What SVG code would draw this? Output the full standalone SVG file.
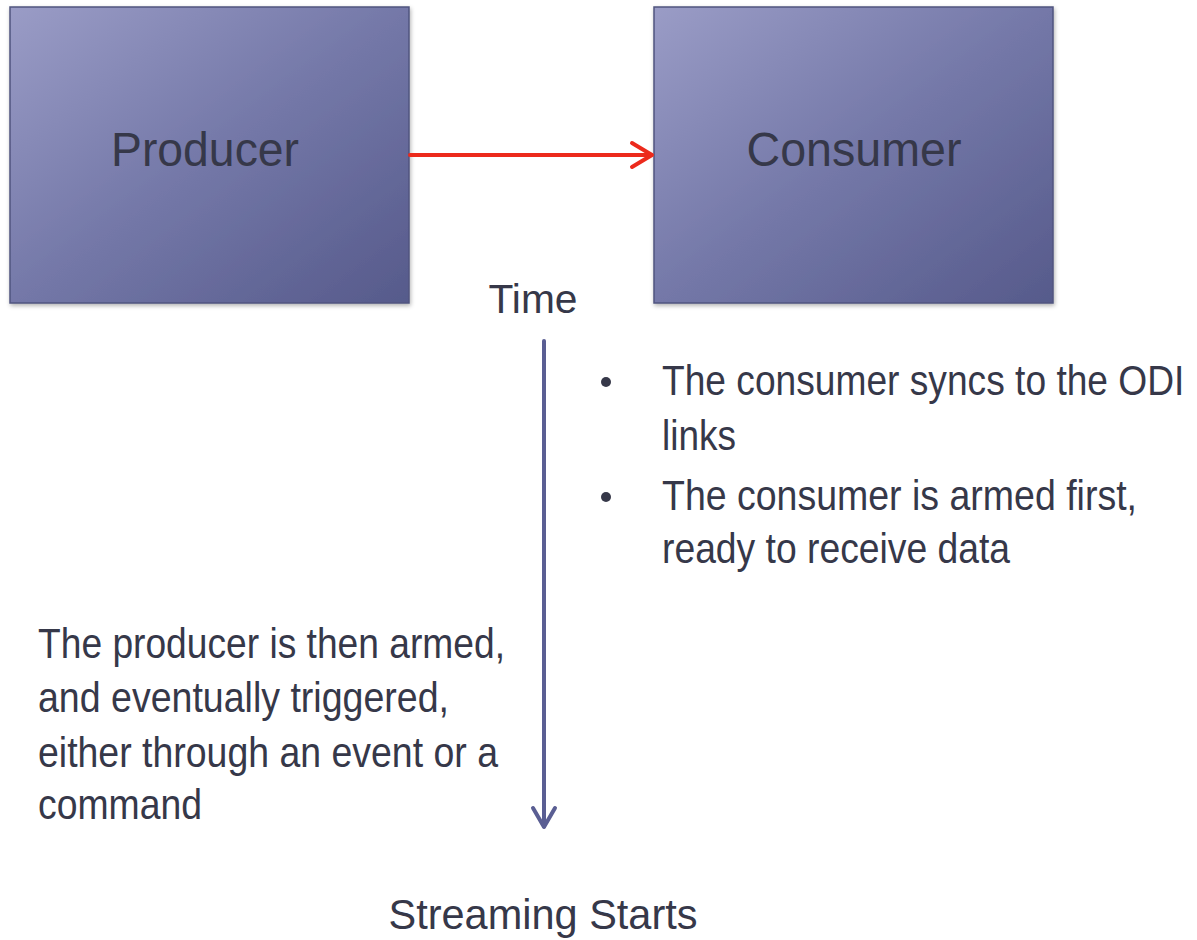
<svg xmlns="http://www.w3.org/2000/svg" width="1197" height="940" viewBox="0 0 1197 940">
<style>
  .t { font-family: "Liberation Sans", Arial, sans-serif; fill: #363849; }
  .box { fill: url(#boxg); stroke: #50547f; stroke-width: 1.5; filter: url(#sh); }
</style>
<defs>
  <linearGradient id="boxg" x1="0" y1="0" x2="1" y2="1">
    <stop offset="0" stop-color="#9a9cc6"/>
    <stop offset="0.5" stop-color="#7478a8"/>
    <stop offset="1" stop-color="#565a8b"/>
  </linearGradient>
  <filter id="sh" x="-5%" y="-5%" width="110%" height="110%">
    <feDropShadow dx="1" dy="2" stdDeviation="2" flood-color="#000" flood-opacity="0.3"/>
  </filter>
</defs>
<rect width="1197" height="940" fill="#ffffff"/>
<g id="producer">
  <rect class="box" x="10" y="7" width="399" height="296"/>
  <text class="t" x="205" y="166" font-size="48" text-anchor="middle" textLength="188" lengthAdjust="spacingAndGlyphs">Producer</text>
</g>
<g id="consumer">
  <rect class="box" x="654" y="7" width="399" height="296"/>
  <text class="t" x="854" y="166" font-size="48" text-anchor="middle" textLength="215" lengthAdjust="spacingAndGlyphs">Consumer</text>
</g>
<g id="connectors" fill="none" stroke-linecap="round" stroke-linejoin="round">
  <g stroke="#ec2a1c" stroke-width="4">
    <line x1="410" y1="155" x2="651" y2="155"/>
    <polyline points="632,143 652,155 632,167"/>
  </g>
  <g stroke="#5a5e93" stroke-width="4">
    <line x1="544" y1="341" x2="544" y2="826"/>
    <polyline points="533,808 544,827 555,808"/>
  </g>
</g>
<g id="labels">
  <text class="t" x="533" y="313" font-size="40" text-anchor="middle" textLength="89" lengthAdjust="spacingAndGlyphs">Time</text>
  <circle cx="606" cy="382" r="5" fill="#363849"/>
  <circle cx="606" cy="497" r="5" fill="#363849"/>
  <text class="t" transform="translate(662,395) scale(0.885,1)" x="0" y="0" font-size="42">The consumer syncs to the ODI</text>
  <text class="t" x="662" y="450" font-size="42" textLength="74" lengthAdjust="spacingAndGlyphs">links</text>
  <text class="t" x="662" y="510" font-size="42" textLength="475" lengthAdjust="spacingAndGlyphs">The consumer is armed first,</text>
  <text class="t" x="662" y="563" font-size="42" textLength="348" lengthAdjust="spacingAndGlyphs">ready to receive data</text>
  <text class="t" x="38" y="658" font-size="42" textLength="467" lengthAdjust="spacingAndGlyphs">The producer is then armed,</text>
  <text class="t" x="38" y="712" font-size="42" textLength="411" lengthAdjust="spacingAndGlyphs">and eventually triggered,</text>
  <text class="t" x="38" y="767" font-size="42" textLength="460" lengthAdjust="spacingAndGlyphs">either through an event or a</text>
  <text class="t" x="38" y="819" font-size="42" textLength="164" lengthAdjust="spacingAndGlyphs">command</text>
  <text class="t" x="543" y="929" font-size="43" text-anchor="middle" textLength="309" lengthAdjust="spacingAndGlyphs">Streaming Starts</text>
</g>
</svg>
